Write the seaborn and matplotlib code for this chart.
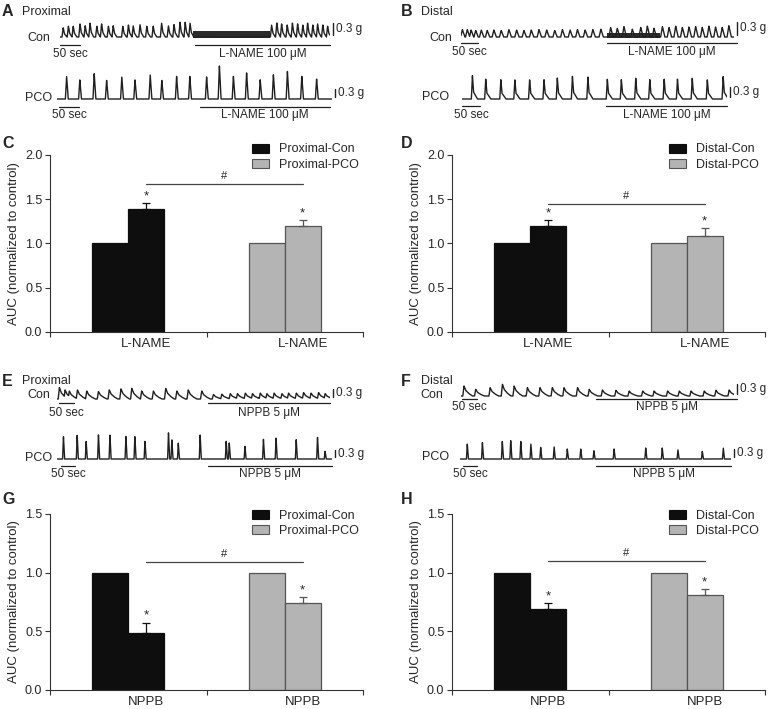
import numpy as np
import pandas as pd
import matplotlib
matplotlib.use("Agg")
import matplotlib.pyplot as plt
from matplotlib.patches import Patch
import seaborn as sns

sns.set_style("ticks")
plt.rcParams["font.family"] = ["Liberation Sans", "DejaVu Sans"]

# ---------------- bar data: AUC normalized to control ----------------
bar_pos = [0.385, 0.615, 1.385, 1.615]      # ctrl / drug for Con, ctrl / drug for PCO
lname_prox = [1.00, 1.39, 1.00, 1.20]
lname_prox_err = [0, 0.065, 0, 0.065]
lname_dist = [1.00, 1.20, 1.00, 1.09]
lname_dist_err = [0, 0.065, 0, 0.08]
nppb_prox = [1.00, 0.49, 1.00, 0.74]
nppb_prox_err = [0, 0.085, 0, 0.05]
nppb_dist = [1.00, 0.69, 1.00, 0.81]
nppb_dist_err = [0, 0.05, 0, 0.05]
sig_line = {"C": 1.67, "D": 1.445, "G": 1.09, "H": 1.10}

# ---------------- traces: peak time (s) and amplitude (g) ----------------
# A  proximal, L-NAME 100 uM
a_con_t = [8, 21, 33, 50, 63, 75, 92, 104, 121, 133, 157, 171, 183, 200, 217, 233, 254, 271, 285, 300, 313, 325,
           529, 542, 554, 568, 581, 594, 607, 619, 632, 644, 657, 669]
a_con_h = [0.23, 0.27, 0.27, 0.33, 0.28, 0.35, 0.27, 0.33, 0.27, 0.28, 0.27, 0.30, 0.28, 0.31, 0.27, 0.27, 0.35,
           0.28, 0.31, 0.37, 0.37, 0.35,
           0.30, 0.35, 0.33, 0.30, 0.35, 0.33, 0.30, 0.35, 0.30, 0.33, 0.30, 0.27]
a_con_band = (332, 525, 0.14)  # fast low-amplitude oscillation
a_pco_t = [24, 57, 93, 124, 162, 195, 233, 262, 299, 332, 374, 406, 441, 474, 508, 541, 576, 612, 649]
a_pco_h = [0.85, 0.72, 0.95, 0.70, 0.83, 0.72, 0.91, 0.70, 0.85, 0.85, 0.83, 1.25, 0.85, 0.98, 0.72, 0.91,
           1.04, 0.85, 0.75]

# B  distal, L-NAME 100 uM
b_con_t = [4, 18, 29, 42, 58, 75, 94, 115, 137, 159, 180, 201, 223, 245, 268, 290, 312, 333, 355, 377, 400,
           428, 447, 466, 490, 514, 533, 552, 576, 595, 614, 633, 652, 671, 690, 709, 728, 747, 766]
b_con_h = [0.17, 0.17, 0.16, 0.15, 0.16, 0.15, 0.16, 0.15, 0.17, 0.16, 0.15, 0.16, 0.17, 0.16, 0.15, 0.17,
           0.16, 0.17, 0.16, 0.17, 0.18,
           0.22, 0.20, 0.24, 0.18, 0.22, 0.25, 0.20, 0.24, 0.22, 0.25, 0.22, 0.23, 0.24, 0.22, 0.25, 0.23,
           0.22, 0.26]
b_con_band = (418, 570, 0.09)
b_pco_t = [29, 66, 108, 147, 188, 228, 265, 307, 350, 404, 443, 483, 522, 562, 599, 640, 682, 726]
b_pco_h = [0.70, 0.60, 0.58, 0.58, 0.58, 0.58, 0.63, 0.68, 0.66, 0.60, 0.58, 0.63, 0.58, 0.60, 0.60, 0.63,
           0.58, 0.68]

# E  proximal, NPPB 5 uM
e_con_t = [8, 27, 41, 68, 99, 138, 174, 213, 249, 282, 321, 362, 399, 437, 482,
           521, 549, 577, 601, 627, 651, 677, 699, 723, 749, 771, 797, 821, 846, 871, 893]
e_con_h = [0.43, 0.34, 0.30, 0.34, 0.30, 0.28, 0.34, 0.38, 0.40, 0.30, 0.30, 0.40, 0.30, 0.34, 0.30,
           0.17, 0.18, 0.20, 0.20, 0.22, 0.20, 0.22, 0.20, 0.22, 0.20, 0.22, 0.22, 0.24, 0.22, 0.24, 0.20]
e_pco_t = [23, 72, 104, 148, 189, 246, 278, 314, 398, 410, 433, 511, 604, 615, 671, 737, 782, 854, 930, 957]
e_pco_h = [1.02, 1.07, 0.80, 1.09, 1.09, 1.02, 1.02, 0.80, 1.20, 0.87, 0.72, 1.09, 0.80, 0.72, 0.57, 0.90,
           0.95, 0.87, 0.99, 0.35]

# F  distal, NPPB 5 uM
f_con_t = [10, 49, 97, 138, 177, 221, 263, 304, 343, 388, 427, 471, 516, 560, 605, 643, 688, 727, 766, 810,
           849, 893]
f_con_h = [0.30, 0.20, 0.25, 0.35, 0.30, 0.25, 0.25, 0.25, 0.25, 0.25, 0.20, 0.18, 0.17, 0.15, 0.15, 0.15,
           0.15, 0.15, 0.15, 0.15, 0.17, 0.18]
f_pco_t = [26, 80, 151, 181, 217, 253, 288, 336, 383, 431, 478, 550, 663, 722, 778, 865, 940]
f_pco_h = [0.59, 0.65, 0.69, 0.72, 0.69, 0.59, 0.46, 0.48, 0.39, 0.39, 0.33, 0.39, 0.43, 0.43, 0.36, 0.30, 0.43]

# recording length and drug period (s)
rec = {
    "A_con": (675, 338, 675), "A_pco": (687, 357, 683),
    "B_con": (781, 418, 789), "B_pco": (737, 400, 737),
    "E_con": (910, 503, 909), "E_pco": (982, 539, 982),
    "F_con": (910, 450, 919), "F_pco": (967, 486, 967),
}

# ---------------- layout ----------------
W, H = 768, 709
BLACK, GREY, EDGE, TRACE = "#0e0e0e", "#b4b4b4", "#555555", "#202020"
FS = 8.5

# trace layout: x0 px, baseline px, sec/px, g/px, shape, 50-s bar start, bar dy px, text dy px
tl = {
    "A_con": (60, 37, 2.5, 0.025, "conA", 0, 8, 17),
    "A_pco": (57, 99, 2.5, 0.0375, "spike", 5, 7.5, 16),
    "B_con": (461, 37, 2.86, 0.023, "lam", 0, 6, 15),
    "B_pco": (462, 99, 2.78, 0.03, "tail", 0, 6.5, 16),
    "E_con": (57, 399, 3.33, 0.0375, "saw", 7, 4, 14),
    "E_pco": (57, 459, 3.57, 0.045, "spike", 14, 7, 15),
    "F_con": (461, 396, 3.33, 0.03, "saw", 3, 2.5, 11),
    "F_pco": (460, 459, 3.57, 0.039, "spike", 11, 6.5, 15),
}
shapes = {
    "spike": ([-3, 0, 4], [0, 1, 0]),
    "conA": ([-3, 0, 3, 9], [0, 1, 0.35, 0]),
    "lam": ([-5, 0, 7], [0, 1, 0]),
    "tail": ([-3, 0, 3, 14], [0, 1, 0.3, 0]),
    "saw": ([-4, 0, 6, 16, 28], [0, 1, 0.55, 0.25, 0]),
}

fig = plt.figure(figsize=(W / 100, H / 100), dpi=100)


def box(x0, y0, x1, y1):
    return [x0 / W, 1 - y1 / H, (x1 - x0) / W, (y1 - y0) / H]


def trace(key, t_peaks, h_peaks, drug, band=None):
    x0, base, spp, gpp, shape, t50, dyb, dyt = tl[key]
    dur, d_on, d_off = rec[key]
    ax = fig.add_axes(box(x0, base - 45, x0 + dur / spp, base + 25))
    ax.set_xlim(0, dur)
    ax.set_ylim(-25 * gpp, 45 * gpp)
    ax.axis("off")
    dts, fr = np.array(shapes[shape][0]), np.array(shapes[shape][1])
    t = np.linspace(0, dur, 6000)
    y = np.zeros_like(t)
    for tp, h in zip(t_peaks, h_peaks):
        y = np.maximum(y, np.interp(t, tp + dts, h * fr, left=0, right=0))
    ax.plot(t, y, color=TRACE, lw=1.0)
    if band is not None:
        ax.fill_between([band[0], band[1]], -0.015, band[2], color="#2b2b2b", lw=0)
    yb = -dyb * gpp
    ax.plot([t50, t50 + 50], [yb, yb], color=TRACE, lw=0.9, clip_on=False)
    ax.text(t50 + 25, -dyt * gpp, "50 sec", ha="center", va="center", fontsize=FS)
    ax.plot([d_on, d_off], [yb, yb], color=TRACE, lw=0.9, clip_on=False)
    ax.text((d_on + d_off) / 2, -dyt * gpp, drug, ha="center", va="center", fontsize=FS)
    xs = dur + 3 * spp
    ax.plot([xs, xs], [2 * gpp, 2 * gpp + 0.3], color=TRACE, lw=1.0, clip_on=False)
    ax.text(xs + 3 * spp, 2 * gpp + 0.15, "0.3 g", ha="left", va="center", fontsize=FS)


def bar_panel(x0, y0, y1, vals, errs, names, drug, ymax, sig, leg_x, leg_y):
    ax = fig.add_axes(box(x0, y0, x0 + 313, y1))
    df = pd.DataFrame({"pos": bar_pos, "auc": vals, "grp": [names[0]] * 2 + [names[1]] * 2})
    sns.barplot(data=df, x="pos", y="auc", hue="grp", native_scale=True, dodge=False, width=1.0,
                palette=[BLACK, GREY], errorbar=None, legend=False, linewidth=0.9, ax=ax)
    for cont, ec in zip(ax.containers, [BLACK, EDGE]):
        for p in cont:
            p.set_edgecolor(ec)
    for i, (p, v, e) in enumerate(zip(bar_pos, vals, errs)):
        if e > 0:
            c = BLACK if i < 2 else EDGE
            ax.errorbar([p], [v], yerr=[[0], [e]], fmt="none", ecolor=c, elinewidth=0.9,
                        capsize=3, capthick=0.9)
            ax.annotate("*", (p, v + e), xytext=(0, 0.5), textcoords="offset points",
                        ha="center", va="bottom", fontsize=9.5)
    ax.plot([bar_pos[1], bar_pos[3]], [sig, sig], color="#444444", lw=0.9)
    ax.annotate("#", ((bar_pos[1] + bar_pos[3]) / 2, sig), xytext=(0, 2), textcoords="offset points",
                ha="center", va="bottom", fontsize=8)
    ax.set_xlim(0, 2)
    ax.set_ylim(0, ymax)
    ax.set_yticks(np.arange(0, ymax + 0.01, 0.5))
    ax.set_yticklabels([f"{v:.1f}" for v in np.arange(0, ymax + 0.01, 0.5)], fontsize=9)
    ax.set_xticks([0, 1, 2])
    ax.set_xticklabels([])
    ax.set_xticks([bar_pos[1], bar_pos[3]], labels=[drug, drug], minor=True)
    ax.tick_params(axis="x", which="minor", length=0, pad=4, labelsize=9.5)
    ax.tick_params(axis="x", which="major", length=3.5, width=0.8, color="#333333")
    ax.tick_params(axis="y", length=3.5, width=0.8, pad=2, color="#333333")
    ax.set_xlabel("")
    ax.set_ylabel("AUC (normalized to control)", fontsize=9.5)
    ax.yaxis.set_label_coords(-0.095, 0.5)
    sns.despine(ax=ax)
    for s in ("left", "bottom"):
        ax.spines[s].set_linewidth(0.8)
        ax.spines[s].set_color("#333333")
    handles = [Patch(facecolor=BLACK, edgecolor=BLACK, lw=0.8),
               Patch(facecolor=GREY, edgecolor=EDGE, lw=0.8)]
    ax.legend(handles, names, loc="upper left", bbox_to_anchor=(leg_x, leg_y), frameon=False,
              fontsize=9, handlelength=1.35, handleheight=0.75, handletextpad=0.8,
              labelspacing=0.25, borderpad=0, borderaxespad=0)
    return ax


# ---------------- traces ----------------
trace("A_con", a_con_t, a_con_h, "L-NAME 100 \u03bcM", a_con_band)
trace("A_pco", a_pco_t, a_pco_h, "L-NAME 100 \u03bcM")
trace("B_con", b_con_t, b_con_h, "L-NAME 100 \u03bcM", b_con_band)
trace("B_pco", b_pco_t, b_pco_h, "L-NAME 100 \u03bcM")
trace("E_con", e_con_t, e_con_h, "NPPB 5 \u03bcM")
trace("E_pco", e_pco_t, e_pco_h, "NPPB 5 \u03bcM")
trace("F_con", f_con_t, f_con_h, "NPPB 5 \u03bcM")
trace("F_pco", f_pco_t, f_pco_h, "NPPB 5 \u03bcM")

row_labels = [("Con", 50, 38), ("PCO", 52, 98), ("Con", 452, 38), ("PCO", 449, 97),
              ("Con", 50, 395), ("PCO", 52, 458), ("Con", 443, 395), ("PCO", 449, 457)]
for txt, x, y in row_labels:
    fig.text(x / W, 1 - y / H, txt, ha="right", va="center", fontsize=9)

# ---------------- bars ----------------
bar_panel(50, 155, 332, lname_prox, lname_prox_err, ["Proximal-Con", "Proximal-PCO"], "L-NAME", 2.0,
          sig_line["C"], 0.645, 1.065)
bar_panel(452, 155, 332, lname_dist, lname_dist_err, ["Distal-Con", "Distal-PCO"], "L-NAME", 2.0,
          sig_line["D"], 0.694, 1.065)
bar_panel(50, 514, 690, nppb_prox, nppb_prox_err, ["Proximal-Con", "Proximal-PCO"], "NPPB", 1.5,
          sig_line["G"], 0.645, 1.025)
bar_panel(452, 514, 690, nppb_dist, nppb_dist_err, ["Distal-Con", "Distal-PCO"], "NPPB", 1.5,
          sig_line["H"], 0.694, 1.025)

# ---------------- panel letters ----------------
letters = [("A", 2, 12, "Proximal"), ("B", 401, 12, "Distal"), ("C", 2, 143, ""), ("D", 401, 143, ""),
           ("E", 2, 381, "Proximal"), ("F", 401, 381, "Distal"), ("G", 2, 500, ""), ("H", 401, 500, "")]
for lt, x, y, sub in letters:
    fig.text(x / W, 1 - y / H, lt, ha="left", va="center", fontsize=11.5, fontweight="bold")
    if sub:
        fig.text((x + 20) / W, 1 - y / H, sub, ha="left", va="center", fontsize=9)

fig.savefig("out.png", dpi=100)
